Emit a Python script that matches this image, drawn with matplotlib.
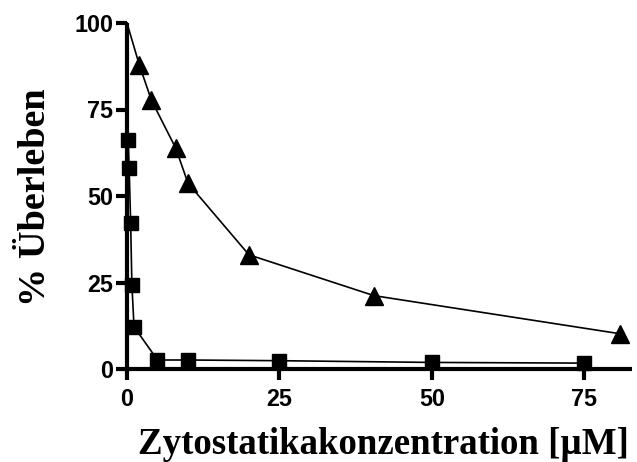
import numpy as np
import matplotlib
matplotlib.use("Agg")
import matplotlib.pyplot as plt

# Überlebenskurven: Konzentration [µM] gegen % Überleben
x_tri = [0, 2, 4, 8, 10, 20, 40.5, 80.8]
y_tri = [100, 88, 77.7, 63.8, 53.7, 33, 21.2, 10.2]

x_sq = [0, 0.2, 0.35, 0.6, 0.8, 1.15, 5, 10, 25, 50, 75]
y_sq = [100, 66.3, 58.2, 42.3, 24.4, 12.2, 2.6, 2.6, 2.4, 1.9, 1.7]

xticks = [0, 25, 50, 75]
yticks = [0, 25, 50, 75, 100]

fig = plt.figure(figsize=(6.37, 4.62), dpi=100)
ax = fig.add_axes([127/637, 93/462, 505/637, 346/462])

ax.plot(x_tri, y_tri, color="black", lw=1.2, marker="^", ms=12.5,
        markevery=list(range(1, len(x_tri))), clip_on=False, zorder=3)
ax.plot(x_sq, y_sq, color="black", lw=1.2, marker="s", ms=9.5,
        markevery=list(range(1, len(x_sq))), clip_on=False, zorder=3)

ax.set_xlim(0, 82.8)
ax.set_ylim(0, 100)
ax.set_xticks(xticks)
ax.set_yticks(yticks)

for s in ["top", "right"]:
    ax.spines[s].set_visible(False)
for s in ["left", "bottom"]:
    ax.spines[s].set_linewidth(3)
    ax.spines[s].set_capstyle("butt")

ax.tick_params(axis="both", direction="out", length=8, width=3)
ax.tick_params(axis="x", pad=6)
ax.tick_params(axis="y", pad=2)
for lab in ax.get_xticklabels() + ax.get_yticklabels():
    lab.set_fontfamily("Liberation Sans")
    lab.set_fontweight("bold")
    lab.set_fontsize(16.8)

ax.set_xlabel("Zytostatikakonzentration [µM]", fontfamily="Liberation Serif",
              fontweight="bold", fontsize=26.6, va="center")
ax.set_ylabel("% Überleben", fontfamily="Liberation Serif",
              fontweight="bold", fontsize=27.5, va="center")
ax.xaxis.set_label_coords(0.507, -0.218)
ax.yaxis.set_label_coords(-0.182, 0.496)

fig.savefig("out.png", dpi=100)
